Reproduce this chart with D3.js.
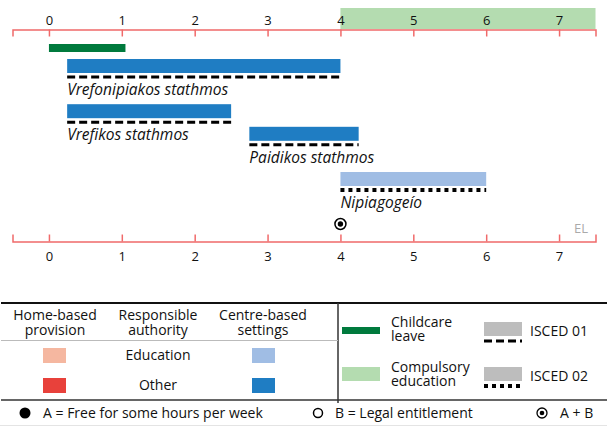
<!DOCTYPE html>
<html><head><meta charset="utf-8">
<script src="https://cdn.jsdelivr.net/npm/d3@7"></script>
<style>body{margin:0;background:#fff}svg{display:block}</style>
</head><body><div id="c"></div>
<script>
// ---- data ----
const ageTicks = [0, 1, 2, 3, 4, 5, 6, 7];
const programmes = ["Vrefonipiakos stathmos", "Vrefikos stathmos", "Paidikos stathmos", "Nipiagogeío"];
const progStart = [0.25, 0.25, 2.75, 4];
const progEnd = [4, 2.5, 4.25, 6];
const progIsced = ["01", "01", "01", "02"];
const progAuthority = ["Other", "Other", "Other", "Education"];
const childcareLeave = [0, 1.05];
const compulsoryEducation = [4, 7.5];
const entitlementAge = [4];
const entitlementType = ["A+B"];
const countryCode = "EL";

// ---- layout ----
const W = 607, H = 427;
const svg = d3.select("#c").append("svg").attr("width", W).attr("height", H);
const x = d3.scaleLinear().domain([-0.5, 7.5]).range([12.5, 595.5]);
const lanes = [0, 2, 3, 5];
const y = d3.scaleLinear().domain([0, 5]).range([59, 172]);
const barH = 14;
const axisColor = "#f06a6a";
const blueDark = "#1f7dc3", blueLight = "#a0bde4";
const chartFont = "'Open Sans', sans-serif";

// compulsory education band
svg.append("rect").attr("x", x(compulsoryEducation[0])).attr("y", 8)
  .attr("width", x(compulsoryEducation[1]) - x(compulsoryEducation[0])).attr("height", 21)
  .attr("fill", "#b4dcb0");

// axes
const topAxis = d3.axisTop(x).tickValues(ageTicks).tickSize(-7).tickFormat(d3.format("d"));
const gTop = svg.append("g").attr("transform", "translate(0,29.5)").call(topAxis);
const botAxis = d3.axisBottom(x).tickValues(ageTicks).tickSize(-7).tickFormat(d3.format("d"));
const gBot = svg.append("g").attr("transform", "translate(0,241.5)").call(botAxis);
[gTop, gBot].forEach(g => {
  g.select(".domain").attr("stroke", axisColor).attr("stroke-width", 1.5);
  g.selectAll(".tick line").attr("stroke", axisColor).attr("stroke-width", 1.5);
  g.selectAll(".tick text").attr("fill", "#111").attr("font-size", 13)
    .attr("font-family", chartFont);
});
gTop.selectAll(".tick text").attr("y", -4).attr("dy", "-0.05em");
gTop.selectAll(".tick line").attr("y2", 7);
gBot.selectAll(".tick line").attr("y2", -7);
gBot.selectAll(".tick text").attr("y", 10).attr("dy", "0.75em");

// childcare leave
svg.append("rect").attr("x", x(childcareLeave[0])).attr("y", 44)
  .attr("width", x(childcareLeave[1]) - x(childcareLeave[0])).attr("height", 8)
  .attr("fill", "#007a3d");

// programmes
const progs = programmes.map((n, i) => ({name: n, s: progStart[i], e: progEnd[i], isced: progIsced[i], auth: progAuthority[i], lane: lanes[i]}));
const pg = svg.append("g").selectAll("g").data(progs).join("g");
pg.append("rect").attr("x", d => x(d.s)).attr("y", d => y(d.lane))
  .attr("width", d => x(d.e) - x(d.s)).attr("height", barH)
  .attr("fill", d => d.auth === "Education" ? blueLight : blueDark);
pg.append("line").attr("x1", d => x(d.s)).attr("x2", d => x(d.e))
  .attr("y1", d => y(d.lane) + barH + 4).attr("y2", d => y(d.lane) + barH + 4)
  .attr("stroke", "#000")
  .attr("stroke-width", d => d.isced === "02" ? 4 : 3)
  .attr("stroke-dasharray", d => d.isced === "02" ? "4,4" : "8,4");
pg.append("text").attr("x", d => x(d.s)).attr("y", d => y(d.lane) + barH + 22)
  .attr("font-family", chartFont).attr("font-style", "italic").attr("font-size", 15.5)
  .attr("fill", "#111").text(d => d.name);

// entitlement marker
entitlementAge.forEach((a, i) => {
  const cy = 224;
  svg.append("circle").attr("cx", x(a)).attr("cy", cy).attr("r", 5.5)
    .attr("fill", "#fff").attr("stroke", "#000").attr("stroke-width", 1.5);
  if (entitlementType[i] === "A+B")
    svg.append("circle").attr("cx", x(a)).attr("cy", cy).attr("r", 2.7).attr("fill", "#000");
});

svg.append("text").attr("x", 588).attr("y", 233).attr("text-anchor", "end")
  .attr("font-family", chartFont).attr("font-size", 13).attr("fill", "#aaa").text(countryCode);

// ---- legend ----
const lg = svg.append("g").attr("font-family", chartFont).attr("fill", "#111");
const lf = 14;
lg.append("line").attr("x1", 1).attr("x2", 607).attr("y1", 303).attr("y2", 303).attr("stroke", "#111").attr("stroke-width", 2);
lg.append("line").attr("x1", 1).attr("x2", 607).attr("y1", 400).attr("y2", 400).attr("stroke", "#333").attr("stroke-width", 1.5);
lg.append("line").attr("x1", 338).attr("x2", 338).attr("y1", 303).attr("y2", 403).attr("stroke", "#333").attr("stroke-width", 1.5);
lg.append("line").attr("x1", 1).attr("x2", 338).attr("y1", 340.5).attr("y2", 340.5).attr("stroke", "#bbb").attr("stroke-width", 1);
lg.append("line").attr("x1", 0).attr("x2", 607).attr("y1", 425.5).attr("y2", 425.5).attr("stroke", "#e4e4e4").attr("stroke-width", 1);

const headers = [["Home-based", "provision", 55], ["Responsible", "authority", 158], ["Centre-based", "settings", 263]];
headers.forEach(h => {
  lg.append("text").attr("x", h[2]).attr("y", 320).attr("text-anchor", "middle").attr("font-size", lf).text(h[0]);
  lg.append("text").attr("x", h[2]).attr("y", 335).attr("text-anchor", "middle").attr("font-size", lf).text(h[1]);
});
const authRows = [["Education", "#f5b7a0", blueLight, 348], ["Other", "#e8413b", blueDark, 378]];
authRows.forEach(r => {
  lg.append("rect").attr("x", 43).attr("y", r[3]).attr("width", 23).attr("height", 15).attr("fill", r[1]);
  lg.append("rect").attr("x", 252).attr("y", r[3]).attr("width", 23).attr("height", 15).attr("fill", r[2]);
  lg.append("text").attr("x", 158).attr("y", r[3] + 12).attr("text-anchor", "middle").attr("font-size", lf).text(r[0]);
});

// childcare / compulsory
lg.append("rect").attr("x", 342).attr("y", 327).attr("width", 38).attr("height", 7).attr("fill", "#007a3d");
lg.append("rect").attr("x", 342).attr("y", 367).attr("width", 38).attr("height", 14).attr("fill", "#b4dcb0");
[["Childcare", "leave", 327], ["Compulsory", "education", 372]].forEach(r => {
  lg.append("text").attr("x", 391).attr("y", r[2]).attr("font-size", lf).text(r[0]);
  lg.append("text").attr("x", 391).attr("y", r[2] + 14).attr("font-size", lf).text(r[1]);
});
// isced
[["ISCED 01", 322, "8,4", 3], ["ISCED 02", 367, "4,4", 4]].forEach(r => {
  lg.append("rect").attr("x", 484).attr("y", r[1]).attr("width", 38).attr("height", 14).attr("fill", "#bdbdbd");
  lg.append("line").attr("x1", 484).attr("x2", 522).attr("y1", r[1] + 19).attr("y2", r[1] + 19)
    .attr("stroke", "#000").attr("stroke-width", r[3]).attr("stroke-dasharray", r[2]);
  lg.append("text").attr("x", 530).attr("y", r[1] + 14).attr("font-size", lf).text(r[0]);
});

// bottom key
const ky = 413;
lg.append("circle").attr("cx", 25).attr("cy", ky).attr("r", 5.5).attr("fill", "#000");
lg.append("text").attr("x", 43).attr("y", ky + 5).attr("font-size", lf).text("A = Free for some hours per week");
lg.append("circle").attr("cx", 318).attr("cy", ky).attr("r", 4.5).attr("fill", "#fff").attr("stroke", "#000").attr("stroke-width", 1.5);
lg.append("text").attr("x", 335).attr("y", ky + 5).attr("font-size", lf).text("B = Legal entitlement");
lg.append("circle").attr("cx", 542).attr("cy", ky).attr("r", 5).attr("fill", "#fff").attr("stroke", "#000").attr("stroke-width", 1.3);
lg.append("circle").attr("cx", 542).attr("cy", ky).attr("r", 2.3).attr("fill", "#000");
lg.append("text").attr("x", 560).attr("y", ky + 5).attr("font-size", lf).text("A + B");
</script></body></html>
